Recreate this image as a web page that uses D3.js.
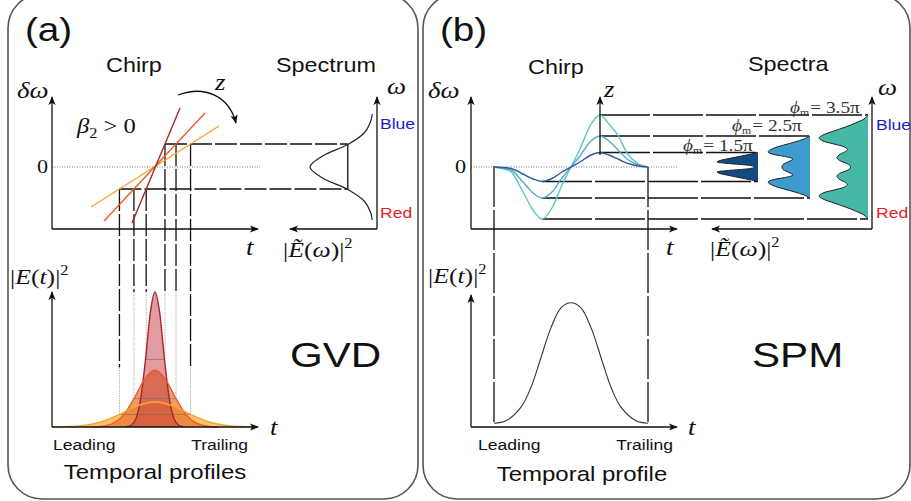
<!DOCTYPE html>
<html>
<head>
<meta charset="utf-8">
<script src="https://cdn.jsdelivr.net/npm/d3@7"></script>
<style>
  body { margin: 0; background: #fff; }
  svg { display: block; }
</style>
</head>
<body>
<svg id="fig" width="911" height="501"></svg>
<script>
// ---------- data (t and δω in arbitrary units, 0 = pulse centre) ----------

// (a) GVD: linear chirp lines, end points [t, δω]  (red = short, yellow = long)
var gvdChirp = [
  [[-2.2, -5.6], [2.6, 5.9]],
  [[-5.0, -5.4], [5.1, 5.4]],
  [[-6.3, -4.0], [6.5, 4.1]]
];
var gvdLevels = [2.3, -2.2];          // δω cut of the spectrum half width

// (a) temporal profiles [t, |E|^2]
var gvdPulseRed = [[-2.75,0.002],[-2.28,0.013],[-1.8,0.063],[-1.33,0.21],[-0.85,0.5],[-0.38,0.84],[0.1,1],
  [0.58,0.84],[1.05,0.5],[1.53,0.21],[2.0,0.063],[2.48,0.013],[2.95,0.002]];
var gvdPulseOrange = [[-6.2,0.001],[-5.15,0.006],[-4.1,0.026],[-3.05,0.088],[-2.0,0.21],[-0.95,0.353],[0.1,0.42],
  [1.15,0.353],[2.2,0.21],[3.25,0.088],[4.3,0.026],[5.35,0.006],[6.4,0.001]];
var gvdPulseYellow = [[-10.2,0.001],[-8.78,0.003],[-7.0,0.012],[-5.23,0.039],[-3.45,0.093],[-1.68,0.156],[0.1,0.185],
  [1.88,0.156],[3.65,0.093],[5.43,0.039],[7.2,0.012],[8.98,0.003],[10.3,0.001]];
var gvdPeaks = [1.0, 0.42, 0.185];

// (a) spectrum [δω, |E(ω)|^2]
var gvdSpectrum = [[5.3,0.012],[4.5,0.04],[3.4,0.14],[2.25,0.4],[1.1,0.8],[0,1],
  [-1.1,0.8],[-2.25,0.4],[-3.4,0.14],[-4.5,0.04],[-5.3,0.012]];
var gvdSpecCut = 0.4;

// (b) SPM chirp [t, δω] for phi_m = 1.5pi, 2.5pi, 3.5pi
var spmChirp15 = [[-7.8,0],[-6.1,-0.12],[-4.8,-0.7],[-3.8,-1.2],[-2.9,-1.45],[-1.9,-1.15],[-0.9,-0.5],[0,0],
  [0.9,0.5],[1.9,1.15],[2.9,1.45],[3.8,1.2],[4.8,0.75],[5.6,0.38],[6.6,0.12],[7.7,0]];
var spmChirp25 = [[-7.8,0],[-6.1,-0.25],[-4.8,-1.5],[-3.8,-2.6],[-2.9,-3.1],[-1.9,-2.5],[-0.9,-1.1],[0,0],
  [0.9,1.1],[1.9,2.5],[2.9,3.1],[3.8,2.6],[4.8,1.6],[5.6,0.8],[6.6,0.25],[7.7,0]];
var spmChirp35 = [[-7.8,0],[-6.1,-0.4],[-4.8,-2.5],[-3.8,-4.3],[-2.9,-5.2],[-1.9,-4.1],[-0.9,-1.8],[0,0],
  [0.9,1.8],[1.9,4.1],[2.9,5.2],[3.8,4.3],[4.8,3.0],[5.6,1.4],[6.6,0.4],[7.7,0]];

// (b) spectra [δω, |E(ω)|^2]
var spmSpec15 = [[1.45,0],[1.25,0.18],[1.05,0.38],[0.85,0.58],[0.65,0.76],[0.5,0.82],[0.38,0.66],[0.25,0.35],
  [0.12,0.12],[0,0.07],[-0.12,0.12],[-0.25,0.35],[-0.38,0.66],[-0.5,0.82],[-0.65,0.76],[-0.85,0.58],
  [-1.05,0.38],[-1.25,0.18],[-1.45,0]];
var spmSpec25 = [[3.1,0],[2.8,0.12],[2.5,0.3],[2.2,0.52],[1.85,0.74],[1.5,0.84],[1.25,0.72],[1.0,0.45],[0.8,0.34],
  [0.55,0.42],[0.25,0.54],[0,0.56],[-0.25,0.54],[-0.55,0.42],[-0.8,0.34],[-1.0,0.45],[-1.25,0.72],[-1.5,0.84],
  [-1.85,0.74],[-2.2,0.52],[-2.5,0.3],[-2.8,0.12],[-3.1,0]];
var spmSpec35 = [[5.2,0],[4.8,0.08],[4.4,0.25],[4.0,0.45],[3.6,0.68],[3.2,0.9],[2.9,0.98],[2.6,0.9],[2.3,0.68],
  [2.0,0.47],[1.75,0.41],[1.5,0.47],[1.2,0.58],[0.9,0.62],[0.6,0.55],[0.35,0.42],[0.15,0.36],[0,0.35],
  [-0.15,0.36],[-0.35,0.42],[-0.6,0.55],[-0.9,0.62],[-1.2,0.58],[-1.5,0.47],[-1.75,0.41],[-2.0,0.47],
  [-2.3,0.68],[-2.6,0.9],[-2.9,0.98],[-3.2,0.9],[-3.6,0.68],[-4.0,0.45],[-4.4,0.25],[-4.8,0.08],[-5.2,0]];
var spmLabels = ["1.5π", "2.5π", "3.5π"];
var spmExtreme = 2.9;                 // t of chirp min / max

// (b) temporal profile [t, |E|^2]
var spmPulse = [[-7.7,0.028],[-6.5,0.046],[-5.0,0.147],[-4.0,0.294],[-3.0,0.515],[-2.0,0.736],[-1.0,0.883],[0,0.92],
  [1.0,0.883],[2.0,0.736],[3.0,0.515],[4.0,0.294],[5.0,0.147],[6.5,0.046],[7.7,0.028]];

// ---------- styles ----------
var gvdStroke = ["#a8262c", "#ec5a2a", "#f6a62b"];
var gvdFill = ["#c23a44", "#e8722e", "#f6a935"];
var gvdFillOp = [0.5, 0.7, 0.7];
var gvdDashEnd = [1.0, 1.0, 0.44];     // where black dashed verticals stop (in |E|^2 units)
var spmStroke = ["#2b5b98", "#5aa6d8", "#5cc8bd"];
var spmFill = ["#0f4c84", "#3d9bd0", "#45b9a5"];
var specBaseX = [758, 810, 868];
var SX = 1.17;                         // horizontal stretch of the text
var SANS = "'Liberation Sans', Arial, sans-serif";
var SERIF = "'Liberation Serif', 'DejaVu Serif', serif";

var svg = d3.select("#fig");

// ---------- scales ----------
var xA = d3.scaleLinear().domain([-10.2, 10.4]).range([52, 258]);
var xB = d3.scaleLinear().domain([-10, 10.6]).range([471, 677]);
var yW = d3.scaleLinear().domain([-6.2, 7]).range([229, 97]);
var yI = d3.scaleLinear().domain([0, 1]).range([427, 292]);
var sA = d3.scaleLinear().domain([0, 1]).range([373, 310]);
var sB = d3.scaleLinear().domain([0, 1]).range([0, 50]);
var smooth = d3.curveCatmullRom.alpha(0.5);

// ---------- defs ----------
var defs = svg.append("defs");
defs.append("marker").attr("id", "arr")
  .attr("viewBox", "0 0 10 10").attr("refX", 9).attr("refY", 5)
  .attr("markerWidth", 9).attr("markerHeight", 9)
  .attr("markerUnits", "userSpaceOnUse").attr("orient", "auto")
  .append("path").attr("d", "M0,1 L10,5 L0,9 L2.5,5 Z").attr("fill", "#111");

// ---------- frames ----------
[[8, 418], [423, 910]].forEach(function(p) {
  svg.append("rect")
    .attr("x", p[0]).attr("y", -6).attr("width", p[1] - p[0]).attr("height", 505)
    .attr("rx", 34).attr("ry", 34)
    .attr("fill", "none").attr("stroke", "#555").attr("stroke-width", 1.6);
});

function line(g, x1, y1, x2, y2, o) {
  o = o || {};
  var l = g.append("line").attr("x1", x1).attr("y1", y1).attr("x2", x2).attr("y2", y2)
    .attr("stroke", o.stroke || "#111").attr("stroke-width", o.width || 1.3);
  if (o.dash) l.attr("stroke-dasharray", o.dash);
  if (o.arrow) l.attr("marker-end", "url(#arr)");
  if (o.opacity) l.attr("stroke-opacity", o.opacity);
  return l;
}

function label(x, y, html, o) {
  o = o || {};
  return svg.append("g").attr("transform", "translate(" + x + "," + y + ") scale(" + SX + ",1)")
    .append("text")
    .attr("font-family", o.serif ? SERIF : SANS)
    .attr("font-size", o.size || 20)
    .attr("fill", o.fill || "#111")
    .attr("text-anchor", o.anchor || "start")
    .html(html);
}

// ======================= panel (a) GVD =======================
var ga = svg.append("g");

// zero line
line(ga, xA(-10.2), yW(0), 260, yW(0), { stroke: "#777", width: 1, dash: "1,1.5" });

// intersections of chirp lines with the two levels
function tAt(seg, w) {
  var a = seg[0], b = seg[1];
  return a[0] + (w - a[1]) * (b[0] - a[0]) / (b[1] - a[1]);
}
var cuts = gvdChirp.map(function(seg) { return gvdLevels.map(function(w) { return tAt(seg, w); }); });
var specX = sA(gvdSpecCut);

// horizontal dashed lines to the spectrum
gvdLevels.forEach(function(w, k) {
  var tmin = d3.min(cuts, function(c) { return c[k]; });
  line(ga, xA(tmin), yW(w), specX, yW(w), { dash: "22,3" });
});
line(ga, specX, yW(gvdLevels[0]), specX, yW(gvdLevels[1]));

// vertical lines down to the pulses
cuts.forEach(function(c, i) {
  c.forEach(function(t, k) {
    line(ga, xA(t), yW(gvdLevels[k]), xA(t), yI(gvdDashEnd[i]), { dash: "22,3" });
    line(ga, xA(t), yI(gvdDashEnd[i]), xA(t), yI(gvdPeaks[i] / 2), { stroke: "#aaa", width: 0.9, dash: "1.5,1" });
  });
});

// chirp lines
[2, 1, 0].forEach(function(i) {
  var seg = gvdChirp[i];
  ga.append("line")
    .attr("x1", xA(seg[0][0])).attr("y1", yW(seg[0][1]))
    .attr("x2", xA(seg[1][0])).attr("y2", yW(seg[1][1]))
    .attr("stroke", gvdStroke[i]).attr("stroke-width", 1.4);
});

// axes chirp
line(ga, xA(-10.2), yW(-6.2), xA(-10.2), yW(7), { arrow: true });
line(ga, xA(-10.2), yW(-6.2), xA(10.4), yW(-6.2), { arrow: true });

// spectrum
line(ga, 377, yW(-6.2), 377, yW(7), { arrow: true });
line(ga, 377, yW(-6.2), 290, yW(-6.2), { arrow: true });
ga.append("path").datum(gvdSpectrum)
  .attr("d", d3.line().x(function(d) { return sA(d[1]); }).y(function(d) { return yW(d[0]); }).curve(smooth))
  .attr("fill", "none").attr("stroke", "#222").attr("stroke-width", 1.2);

// curved z arrow
ga.append("path").attr("d", "M178,95 C205,85 229,96 236,123")
  .attr("fill", "none").attr("stroke", "#111").attr("stroke-width", 1.3).attr("marker-end", "url(#arr)");

// pulses
var pulses = [gvdPulseRed, gvdPulseOrange, gvdPulseYellow];
var areaA = d3.area().x(function(d) { return xA(d[0]); }).y0(yI(0)).y1(function(d) { return yI(d[1]); }).curve(d3.curveMonotoneX);
var lineA = d3.line().x(function(d) { return xA(d[0]); }).y(function(d) { return yI(d[1]); }).curve(d3.curveMonotoneX);
[2, 1, 0].forEach(function(i) {
  ga.append("path").datum(pulses[i]).attr("d", areaA)
    .attr("fill", gvdFill[i]).attr("fill-opacity", gvdFillOp[i]);
});
// half-maximum markers
cuts.forEach(function(c, i) {
  line(ga, xA(c[1]), yI(gvdPeaks[i] / 2), xA(c[0]), yI(gvdPeaks[i] / 2), { stroke: "#666", width: 0.9, opacity: 0.6 });
});
[0, 1, 2].forEach(function(i) {
  ga.append("path").datum(pulses[i]).attr("d", lineA)
    .attr("fill", "none").attr("stroke", gvdStroke[i]).attr("stroke-width", 1.4);
});
line(ga, xA(-10.2), yI(0), xA(-10.2), yI(1), { arrow: true });
line(ga, xA(-10.2), yI(0), xA(10.4), yI(0), { arrow: true });

// ======================= panel (b) SPM =======================
var gb = svg.append("g");
line(gb, xB(-10), yW(0), 678, yW(0), { stroke: "#777", width: 1, dash: "1,1.5" });

var spmCurves = [spmChirp15, spmChirp25, spmChirp35];
var spmSpecs = [spmSpec15, spmSpec25, spmSpec35];

// horizontal lines from extrema to spectra
spmCurves.forEach(function(c, i) {
  var top = d3.max(c, function(d) { return d[1]; });
  var bot = d3.min(c, function(d) { return d[1]; });
  line(gb, xB(spmExtreme), yW(top), specBaseX[i], yW(top), { dash: "50,3" });
  line(gb, xB(-spmExtreme), yW(bot), specBaseX[i], yW(bot), { dash: "50,3" });
});

// vertical guides to temporal profile
[spmPulse[0], spmPulse[spmPulse.length - 1]].forEach(function(d) {
  line(gb, xB(d[0]), yW(0), xB(d[0]), yI(d[1]), { dash: "40,3" });
});

// chirp curves
var lineB = d3.line().x(function(d) { return xB(d[0]); }).y(function(d) { return yW(d[1]); }).curve(d3.curveMonotoneX);
[2, 1, 0].forEach(function(i) {
  gb.append("path").datum(spmCurves[i]).attr("d", lineB)
    .attr("fill", "none").attr("stroke", spmStroke[i]).attr("stroke-width", 1.4);
});

// z axis
line(gb, xB(spmExtreme), yW(1.2), xB(spmExtreme), yW(7), { arrow: true });

// axes
line(gb, xB(-10), yW(-6.2), xB(-10), yW(7), { arrow: true });
line(gb, xB(-10), yW(-6.2), xB(10.6), yW(-6.2), { arrow: true });
line(gb, 872, yW(-6.2), 872, yW(7), { arrow: true });
line(gb, 872, yW(-6.2), 712, yW(-6.2), { arrow: true });

// spectra
spmSpecs.forEach(function(s, i) {
  var base = specBaseX[i];
  gb.append("path").datum(s)
    .attr("d", d3.area().y(function(d) { return yW(d[0]); }).x0(base)
      .x1(function(d) { return base - sB(d[1]); }).curve(smooth))
    .attr("fill", spmFill[i]);
  gb.append("path").datum(s)
    .attr("d", d3.line().y(function(d) { return yW(d[0]); })
      .x(function(d) { return base - sB(d[1]); }).curve(smooth))
    .attr("fill", "none").attr("stroke", "#222").attr("stroke-width", 1);
});

// temporal profile
gb.append("path").datum(spmPulse)
  .attr("d", d3.line().x(function(d) { return xB(d[0]); }).y(function(d) { return yI(d[1]); }).curve(smooth))
  .attr("fill", "none").attr("stroke", "#333").attr("stroke-width", 1.1);
line(gb, xB(-10), yI(0), xB(-10), 295, { arrow: true });
line(gb, xB(-10), yI(0), xB(10.6), yI(0), { arrow: true });

// ======================= text =======================
var it = function(s) { return '<tspan font-style="italic">' + s + '</tspan>'; };
var sup2 = '<tspan font-size="14" dy="-9">2</tspan>';

label(25, 41, "(a)", { size: 33 });
label(440, 41, "(b)", { size: 33 });
label(106, 72, "Chirp");
label(276, 72, "Spectrum");
label(528, 74, "Chirp");
label(748, 71, "Spectra");
label(380, 129, "Blue", { size: 15, fill: "#1a1ad0" });
label(380, 218, "Red", { size: 15, fill: "#e5202a" });
label(876, 130, "Blue", { size: 15, fill: "#1a1ad0" });
label(876, 218, "Red", { size: 15, fill: "#e5202a" });
label(290, 367, "GVD", { size: 36 });
label(752, 367, "SPM", { size: 36 });
label(53, 450, "Leading", { size: 15 });
label(248, 450, "Trailing", { size: 15, anchor: "end" });
label(478, 450, "Leading", { size: 15 });
label(673, 450, "Trailing", { size: 15, anchor: "end" });
label(155, 479, "Temporal profiles", { size: 20.5, anchor: "middle" });
label(582, 481, "Temporal profile", { size: 20.5, anchor: "middle" });

var m = { serif: true, size: 23 };
label(17, 98, it("δω"), m);
label(428, 98, it("δω"), m);
label(387, 94, it("ω"), m);
label(878, 95, it("ω"), m);
label(215, 90, it("z"), m);
label(604, 97, it("z"), m);
label(77, 133, it("β") + '<tspan font-size="14" dy="5">2</tspan><tspan dy="-5"> &gt; 0</tspan>', { serif: true, size: 21 });
label(37, 173, "0", { serif: true, size: 19 });
label(455, 173, "0", { serif: true, size: 19 });
label(246, 255, it("t"), m);
label(666, 255, it("t"), m);
label(270, 435, it("t"), m);
label(688, 435, it("t"), m);
label(283, 257, "|" + it("Ẽ") + "(" + it("ω") + ")|" + sup2, { serif: true, size: 22 });
label(710, 256, "|" + it("Ẽ") + "(" + it("ω") + ")|" + sup2, { serif: true, size: 22 });
label(10, 284, "|" + it("E") + "(" + it("t") + ")|" + sup2, { serif: true, size: 22 });
label(428, 283, "|" + it("E") + "(" + it("t") + ")|" + sup2, { serif: true, size: 22 });

var phiPos = [[683, 151], [732, 131], [790, 113]];
spmLabels.forEach(function(s, i) {
  label(phiPos[i][0], phiPos[i][1],
    it("ϕ") + '<tspan font-size="10" dy="3">m</tspan><tspan dy="-3" dx="1">= ' + s + '</tspan>',
    { serif: true, size: 16.5, fill: "#333" });
});
</script>
</body>
</html>
